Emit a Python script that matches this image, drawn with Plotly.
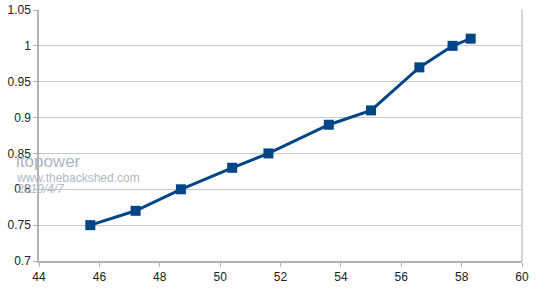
import plotly.graph_objects as go

x_vals = [45.7, 47.2, 48.7, 50.4, 51.6, 53.6, 55.0, 56.6, 57.7, 58.3]
y_vals = [0.75, 0.77, 0.80, 0.83, 0.85, 0.89, 0.91, 0.97, 1.00, 1.01]
x_ticks = [44, 46, 48, 50, 52, 54, 56, 58, 60]
y_ticks = [0.7, 0.75, 0.8, 0.85, 0.9, 0.95, 1, 1.05]
y_tick_text = ["0.7", "0.75", "0.8", "0.85", "0.9", "0.95", "1", "1.05"]

fig = go.Figure()
fig.add_trace(go.Scatter(
    x=x_vals, y=y_vals, mode="lines+markers",
    line=dict(color="#004586", width=3),
    marker=dict(symbol="square", size=10, color="#004586"),
    showlegend=False,
))

fig.update_layout(
    width=546, height=300,
    margin=dict(l=39, r=24, t=10, b=39, autoexpand=False),
    paper_bgcolor="white", plot_bgcolor="white",
    font=dict(family="Liberation Sans, Arial", size=12, color="#222"),
    xaxis=dict(range=[44, 60], tickvals=x_ticks, showgrid=False, automargin=False,
               showline=True, linecolor="#b3b3b3", linewidth=1.5,
               ticks="outside", ticklen=4, tickcolor="#b3b3b3", zeroline=False,
               mirror=False),
    yaxis=dict(range=[0.7, 1.05], tickvals=y_ticks, ticktext=y_tick_text, automargin=False,
               showgrid=True, gridcolor="#c8c8c8", gridwidth=1,
               showline=True, linecolor="#b3b3b3", linewidth=1.5,
               ticks="outside", ticklen=4, tickcolor="#b3b3b3", zeroline=False),
    shapes=[dict(type="line", xref="paper", yref="paper", x0=1, x1=1, y0=0, y1=1,
                 line=dict(color="#c8c8c8", width=1.5))],
    annotations=[
        dict(text="itopower", x=14, y=161, xref="paper", yref="paper",
             showarrow=False, font=dict(size=17, color="#aab4c2")),
        dict(text="www.thebackshed.com", x=14, y=178, xref="paper", yref="paper",
             showarrow=False, font=dict(size=12, color="#b0b8c4")),
        dict(text="<i>2019/4/7</i>", x=14, y=189, xref="paper", yref="paper",
             showarrow=False, font=dict(size=12, color="#b0b8c4")),
    ],
)

# convert pixel positions to paper coords for annotations
pw = 546 - 39 - 24
ph = 300 - 10 - 39
for a in fig.layout.annotations:
    px, py = a.x, a.y
    a.x = (px - 39) / pw
    a.y = 1 - (py - 10) / ph
    a.xanchor = "left"
    a.yanchor = "middle"

fig.write_html("out.html")
